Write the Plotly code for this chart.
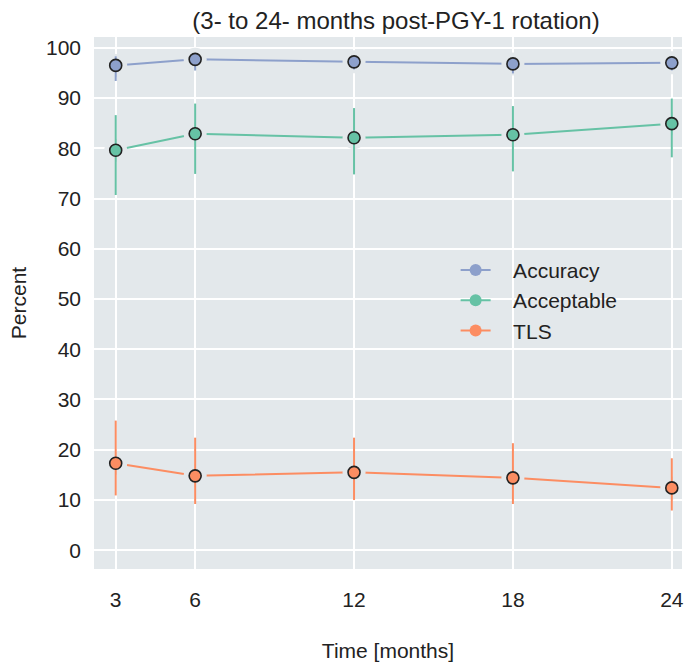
import plotly.graph_objects as go

months = [3, 6, 12, 18, 24]
series_names = ["Accuracy", "Acceptable", "TLS"]

accuracy = [96.5, 97.7, 97.2, 96.8, 97.0]
accuracy_hi = [98.3, 98.8, 98.3, 98.0, 98.0]
accuracy_lo = [93.4, 95.5, 95.7, 94.9, 95.5]

acceptable = [79.6, 82.9, 82.1, 82.7, 84.9]
acceptable_hi = [86.6, 88.9, 88.0, 88.4, 89.9]
acceptable_lo = [70.7, 74.9, 74.8, 75.4, 78.2]

tls = [17.3, 14.8, 15.5, 14.4, 12.4]
tls_hi = [25.8, 22.4, 22.4, 21.3, 18.3]
tls_lo = [10.9, 9.2, 10.0, 9.2, 7.9]

y_ticks = [0, 10, 20, 30, 40, 50, 60, 70, 80, 90, 100]

colors = ["#8da0cb", "#66c2a5", "#fc8d62"]
bg = "#e3e8eb"
font = "Liberation Sans, Arial, sans-serif"

data = [
    (accuracy, accuracy_hi, accuracy_lo),
    (acceptable, acceptable_hi, acceptable_lo),
    (tls, tls_hi, tls_lo),
]

fig = go.Figure()
for name, color, (vals, hi, lo) in zip(series_names, colors, data):
    fig.add_trace(go.Scatter(x=months, y=vals, mode="lines",
                             line=dict(color=color, width=2),
                             showlegend=False, hoverinfo="skip"))
    fig.add_trace(go.Scatter(x=months, y=vals, mode="markers",
                             marker=dict(color=bg, size=23, line=dict(width=0)),
                             showlegend=False, hoverinfo="skip"))
    fig.add_trace(go.Scatter(
        x=months, y=vals, mode="markers",
        marker=dict(color=color, size=12, line=dict(color="#222222", width=1.6)),
        error_y=dict(type="data", symmetric=False,
                     array=[h - v for h, v in zip(hi, vals)],
                     arrayminus=[v - l for v, l in zip(vals, lo)],
                     color=color, thickness=2, width=0),
        showlegend=False))
    fig.add_trace(go.Scatter(x=[None], y=[None], mode="lines+markers",
                             name="\u00a0\u00a0\u00a0" + name,
                             line=dict(color=color, width=2),
                             marker=dict(color=color, size=12)))

fig.update_layout(
    width=684, height=664,
    margin=dict(l=94, r=0, t=37, b=95),
    paper_bgcolor="white",
    plot_bgcolor=bg,
    font=dict(family=font, size=21, color="#222222"),
    title=dict(text="(3- to 24- months post-PGY-1 rotation)",
               x=0.5136, xanchor="center", xref="paper",
               y=0.969, yanchor="middle", yref="container",
               font=dict(size=24, color="#222222")),
    legend=dict(x=0.615, y=0.60, xanchor="left", yanchor="top",
                bgcolor="rgba(0,0,0,0)", font=dict(size=21),
                tracegroupgap=0),
    showlegend=True,
)
fig.update_xaxes(range=[2.18, 24.385], tickvals=months, ticktext=[str(m) for m in months],
                 showgrid=True, gridcolor="white", gridwidth=1.5, zeroline=False,
                 showline=False, ticks="", ticklabelstandoff=16,
                 ticklabeloverflow="allow",
                 title=dict(text="Time [months]", standoff=33, font=dict(size=21)))
fig.update_yaxes(range=[-3.74, 102.15], tickvals=y_ticks,
                 showgrid=True, gridcolor="white", gridwidth=1.5, zeroline=False,
                 showline=False, ticks="", ticklabelstandoff=12,
                 title=dict(text="Percent", standoff=13, font=dict(size=21)))

fig.write_html("out.html",
               config={"displayModeBar": False},
               post_script="document.body.style.margin='0px';document.body.style.overflow='hidden';")
